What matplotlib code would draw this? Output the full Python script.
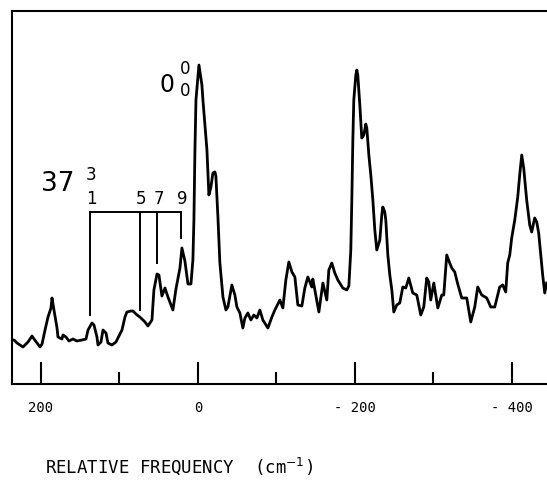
import matplotlib
matplotlib.use('Agg')
import matplotlib.pyplot as plt

# spectrum trace (relative frequency in cm-1, intensity in arbitrary units)
freq = [237.0, 234.4, 230.6, 226.8, 223.0, 219.1, 216.6, 211.5, 208.9, 205.1,
        201.3, 198.7, 194.9, 191.1, 187.3, 186.0, 183.5, 179.6, 178.4, 173.3,
        172.0, 168.2, 164.3, 159.3, 154.2, 147.8, 142.7, 140.1, 135.0, 132.5,
        128.7, 127.4, 123.6, 121.0, 117.2, 114.7, 109.6, 104.5, 101.9, 96.8,
        93.0, 90.5, 85.4, 82.8, 79.0, 72.6, 67.5, 63.7, 58.6, 56.1,
        52.2, 49.7, 45.9, 42.0, 38.2, 31.9, 28.0, 22.9, 20.4, 16.6,
        12.7, 8.9, 6.4, 5.1, 3.8, 2.5, -1.3, -5.1, -6.4, -8.9,
        -11.5, -14.0, -16.6, -19.1, -21.7, -22.9, -25.5, -28.0, -31.9, -35.7,
        -38.2, -43.3, -47.1, -49.7, -53.5, -57.3, -59.9, -63.7, -67.5, -71.3,
        -75.2, -79.0, -82.8, -89.2, -94.3, -98.1, -104.5, -108.3, -112.1, -115.9,
        -119.8, -123.6, -127.4, -132.5, -136.3, -140.1, -145.2, -146.5, -150.3, -154.2,
        -159.3, -164.3, -166.9, -170.7, -174.5, -178.4, -184.7, -189.8, -192.4, -194.9,
        -196.2, -197.5, -198.7, -201.3, -202.6, -203.8, -206.4, -208.9, -211.5, -214.0,
        -215.3, -217.9, -220.4, -223.0, -225.5, -228.0, -231.9, -234.4, -235.7, -238.2,
        -239.5, -242.1, -244.6, -247.2, -249.7, -253.5, -257.3, -261.2, -265.0, -268.8,
        -273.9, -279.0, -284.1, -287.9, -291.7, -294.3, -296.8, -300.7, -305.8, -310.9,
        -313.4, -317.2, -321.0, -323.6, -327.4, -331.2, -336.3, -342.7, -347.8, -352.9,
        -356.7, -361.8, -368.2, -373.3, -378.4, -384.7, -388.6, -392.4, -394.9, -397.5,
        -400.0, -403.9, -407.7, -410.2, -412.8, -415.3, -419.1, -423.0, -425.5, -429.3,
        -431.9, -434.4, -437.0, -439.5, -442.1, -444.6]
intensity = [44, 44, 41, 39, 37, 40, 42, 48, 45, 41,
             37, 40, 54, 67, 76, 86, 74, 56, 47, 45,
             49, 47, 43, 45, 43, 44, 45, 54, 61, 59,
             47, 39, 42, 54, 51, 41, 39, 42, 46, 54,
             67, 72, 73, 73, 70, 66, 62, 58, 64, 94,
             110, 109, 88, 96, 87, 74, 95, 116, 136, 123,
             100, 100, 124, 164, 234, 284, 319, 299, 284, 259,
             234, 189, 197, 211, 212, 208, 167, 121, 87, 74,
             77, 99, 89, 77, 71, 56, 66, 71, 64, 69,
             66, 74, 64, 56, 67, 74, 84, 76, 104, 122,
             112, 107, 79, 78, 96, 107, 97, 105, 89, 72,
             101, 84, 114, 121, 111, 104, 96, 94, 98, 134,
             184, 244, 284, 309, 314, 309, 279, 246, 249, 260,
             256, 229, 209, 184, 154, 134, 144, 169, 177, 172,
             164, 129, 109, 94, 72, 79, 81, 97, 96, 106,
             91, 89, 69, 77, 106, 102, 84, 101, 76, 89,
             89, 129, 121, 116, 112, 100, 86, 86, 62, 77,
             97, 89, 86, 77, 77, 97, 99, 92, 121, 129,
             146, 164, 187, 209, 229, 216, 184, 159, 152, 166,
             162, 151, 129, 109, 91, 101]

# progression comb for 37^3_n
comb_pos = [138, 74, 52, 22]
comb_labels = ['1', '5', '7', '9']
comb_bottom = [69, 74, 121, 146]
comb_top = 172

major_ticks = [200, 0, -200, -400]
major_labels = ['200', '0', '- 200', '- 400']
minor_ticks = [100, -100, -300]

fig = plt.figure(figsize=(5.47, 4.83), dpi=100)
ax = fig.add_axes([12/547, 99/483, 1 - 12/547, 373/483])

ax.plot(freq, intensity, '-', color='k', lw=2.0, solid_joinstyle='round')

#comb
ax.plot([comb_pos[0], comb_pos[-1]], [comb_top, comb_top], '-', color='k', lw=1.4)
for p, b, lab in zip(comb_pos, comb_bottom, comb_labels):
    ax.plot([p, p], [b, comb_top], '-', color='k', lw=1.4)
    ax.text(p - 2, comb_top + 13, lab, fontsize=12, ha='center', va='center')
ax.text(179, 200, '37', fontsize=19, ha='center', va='center')
ax.text(136, 209, '3', fontsize=12, ha='center', va='center')

#origin label
ax.text(39, 299, '0', fontsize=17, ha='center', va='center')
ax.text(16.6, 315, '0', fontsize=12, ha='center', va='center')
ax.text(16.6, 293, '0', fontsize=12, ha='center', va='center')

#limits
ax.set_xlim(237, -445)
ax.set_ylim(0, 373)

#spines and ticks
ax.spines['right'].set_visible(False)
for s in ['left', 'top', 'bottom']:
    ax.spines[s].set_linewidth(1.5)
ax.set_yticks([])
ax.set_xticks(major_ticks)
ax.set_xticklabels(major_labels, fontsize=10, family='DejaVu Sans Mono')
ax.set_xticks(minor_ticks, minor=True)
ax.tick_params(axis='x', which='major', direction='in', length=16, width=1.5, pad=12)
ax.tick_params(axis='x', which='minor', direction='in', length=8.5, width=1.5)

fig.text(45/547, 1 - 473/483, 'RELATIVE FREQUENCY  (cm$^{-1}$)', fontsize=12.5,
         family='DejaVu Sans Mono', ha='left', va='baseline')

fig.savefig('out.png', dpi=100)
